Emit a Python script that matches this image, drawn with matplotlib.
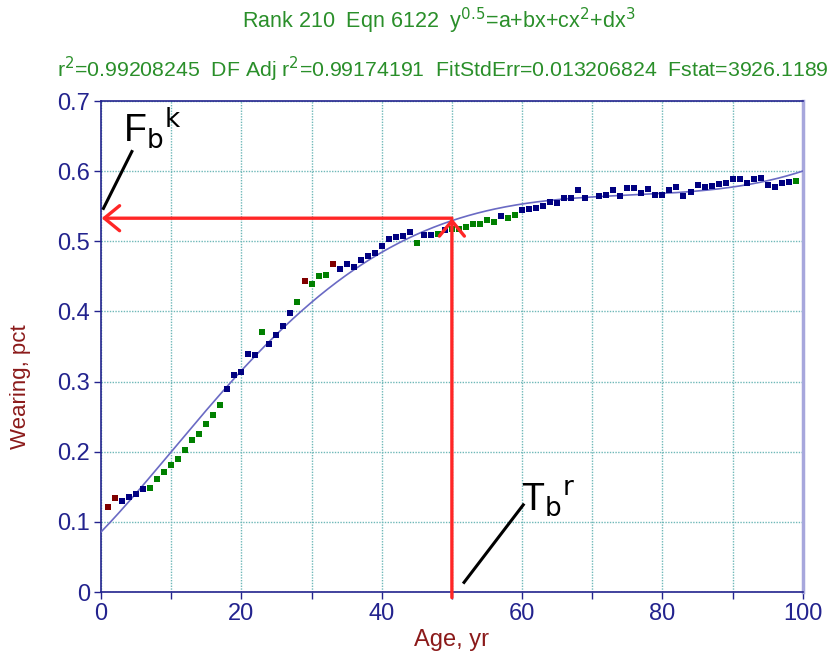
import numpy as np
import matplotlib
matplotlib.use("Agg")
import matplotlib.pyplot as plt

plt.rcParams["font.family"] = ["Liberation Sans", "DejaVu Sans"]

# ── 데이터 ──
age = [1, 2, 3, 4, 5, 6, 7, 8, 9, 10,
       11, 12, 13, 14, 15, 16, 17, 18, 19, 20,
       21, 22, 23, 24, 25, 26, 27, 28, 29, 30,
       31, 32, 33, 34, 35, 36, 37, 38, 39, 40,
       41, 42, 43, 44, 45, 46, 47, 48, 49, 50,
       51, 52, 53, 54, 55, 56, 57, 58, 59, 60,
       61, 62, 63, 64, 65, 66, 67, 68, 69, 71,
       72, 73, 74, 75, 76, 77, 78, 79, 80, 81,
       82, 83, 84, 85, 86, 87, 88, 89, 90, 91,
       92, 93, 94, 95, 96, 97, 98, 99]
wearing = [0.121, 0.134, 0.130, 0.135, 0.140, 0.147, 0.149, 0.161, 0.171, 0.181,
           0.190, 0.203, 0.217, 0.225, 0.240, 0.252, 0.267, 0.290, 0.309, 0.313,
           0.340, 0.338, 0.371, 0.353, 0.367, 0.380, 0.398, 0.414, 0.443, 0.439,
           0.450, 0.452, 0.468, 0.460, 0.468, 0.464, 0.474, 0.479, 0.484, 0.494,
           0.503, 0.506, 0.507, 0.513, 0.498, 0.509, 0.509, 0.510, 0.516, 0.517,
           0.518, 0.520, 0.525, 0.525, 0.530, 0.528, 0.536, 0.533, 0.537, 0.545,
           0.546, 0.547, 0.551, 0.556, 0.554, 0.562, 0.562, 0.573, 0.562, 0.564,
           0.566, 0.573, 0.565, 0.576, 0.576, 0.569, 0.574, 0.566, 0.566, 0.573,
           0.577, 0.565, 0.571, 0.580, 0.577, 0.579, 0.582, 0.583, 0.589, 0.589,
           0.583, 0.589, 0.590, 0.581, 0.578, 0.583, 0.584, 0.586]
# 점 색 구분: r=적갈색, b=남색, g=녹색
group = ("rrbbbbgggg" "gggggggbbb" "bbgbbbbgrg" "ggrbbbbbbb"
         "bbbbgbbgbg" "gggggg" "bgg" "b"
         "bbbbbbbbbb" "bbbbbbbbbb" "bbbbbbbbbb" "bbbbbbbg")
group_colors = {"r": "#800000", "b": "#000080", "g": "#008000"}

fb_k = 0.533      # F_b^k
tb_r = 50         # T_b^r

title1 = r"Rank 210  Eqn 6122  y$^{0.5}$=a+bx+cx$^{2}$+dx$^{3}$"
title2 = (r"r$^{2}$=0.99208245  DF Adj r$^{2}$=0.99174191  "
          r"FitStdErr=0.013206824  Fstat=3926.1189")

NAVY = "#23238e"
GREEN = "#2a8f2a"
DKRED = "#8b1a1a"
RED = "#ff2626"

x = np.array(age, dtype=float)
y = np.array(wearing)

# y^0.5 = a + bx + cx^2 + dx^3
coef = np.polyfit(x, np.sqrt(y), 3)
xf = np.linspace(0, 100, 400)
yf = np.polyval(coef, xf) ** 2

fig = plt.figure(figsize=(8.38, 6.53), dpi=100)
ax = fig.add_axes([0.1205, 0.0934, 0.8375, 0.7518])

ax.set_xlim(0, 100)
ax.set_ylim(0, 0.7)
ax.set_xticks(np.arange(0, 101, 20))
ax.set_xticks(np.arange(0, 101, 10), minor=True)
ax.set_yticks(np.arange(0, 0.71, 0.1))
ax.set_yticklabels(["0", "0.1", "0.2", "0.3", "0.4", "0.5", "0.6", "0.7"])
ax.grid(True, which="both", color="#6fb8b8", ls=(0, (1, 1)), lw=1.0)
ax.set_axisbelow(True)
ax.tick_params(which="both", direction="out", colors=NAVY, labelsize=17,
               length=5, width=1)
ax.tick_params(axis="x", pad=3)
ax.tick_params(axis="y", pad=3)

for side in ("left", "bottom", "top"):
    ax.spines[side].set_color(NAVY)
    ax.spines[side].set_linewidth(1.2)
ax.spines["right"].set_color("#a7a7dc")
ax.spines["right"].set_linewidth(2.5)

ax.plot(xf, yf, color="#6a6ac4", lw=1.2, zorder=3)
for g, c in group_colors.items():
    idx = [i for i, k in enumerate(group) if k == g]
    ax.plot(x[idx], y[idx], "s", color=c, ms=5, mew=0, zorder=4)

arrow = dict(arrowstyle="->,head_length=0.55,head_width=0.45",
             color=RED, lw=2.4, mutation_scale=20, shrinkA=0, shrinkB=0)
ax.annotate("", xy=(0.1, fb_k), xytext=(tb_r, fb_k), arrowprops=arrow,
            zorder=6, annotation_clip=False)
ax.annotate("", xy=(tb_r, fb_k), xytext=(tb_r, -0.008), arrowprops=arrow,
            zorder=6, annotation_clip=False)

ax.plot([0.25, 4.5], [0.545, 0.630], color="black", lw=2.2, zorder=7,
        solid_capstyle="butt")
ax.text(3.2, 0.643, r"F$_\mathrm{b}$$^\mathrm{k}$", fontsize=27,
        color="black", zorder=7)
ax.plot([51.6, 60.3], [0.012, 0.126], color="black", lw=2.2, zorder=7,
        solid_capstyle="butt")
ax.text(59.8, 0.117, r"T$_\mathrm{b}$$^\mathrm{r}$", fontsize=27,
        color="black", zorder=7)

ax.set_xlabel("Age, yr", color=DKRED, fontsize=17, labelpad=3)
ax.set_ylabel("Wearing, pct", color=DKRED, fontsize=16)
ax.yaxis.set_label_coords(-0.10, 0.4175)

fig.text(0.524, 0.968, title1, color=GREEN, fontsize=15.5, ha="center",
         va="center")
fig.text(0.528, 0.893, title2, color=GREEN, fontsize=15.3, ha="center",
         va="center")

plt.savefig("out.png", dpi=100)
